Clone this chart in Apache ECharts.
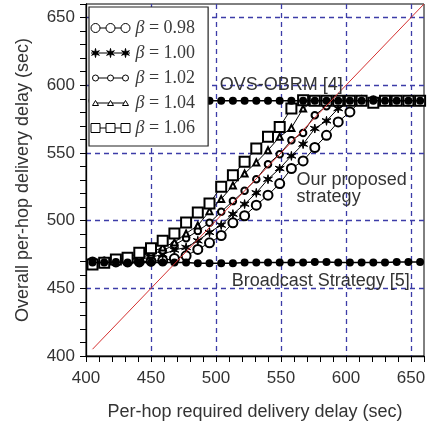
<!DOCTYPE html>
<html><head><meta charset="utf-8">
<script src="https://cdn.jsdelivr.net/npm/echarts@6/dist/echarts.min.js"></script>
<style>html,body{margin:0;padding:0;background:#fff}#c{width:433px;height:429px}</style>
</head><body><div id="c"></div>
<script>
// ---------------- data ----------------
const xValues = [405,414,423,432,441,450,459,468,477,486,495,504,513,522,531,540,549,558,567,576,585,594,603,612,621,630,639,648,657];
const beta098 = [469.5,469.5,469.5,469.5,469.5,470,470.5,472,474,478.7,483.6,489,498.4,503.6,511.4,518.8,527.4,538.5,544.1,554,563,572.9,580.3,588.9,588.5,588.5,588.5,588.5,588.5];
const beta100 = [469.5,470,470,470.5,471.5,473,475,478.3,480.2,485.1,491.3,496.7,504.8,512.2,520.5,530.6,538.5,547.8,556.5,568,573.7,582.8,588.9,588.5,588.5,588.5,588.5,588.5,588.5];
const beta102 = [469,469.5,470,471,472.5,475,478,482,487,492.3,498.4,506.5,514.4,522,530.6,541.7,549.1,559.4,564.8,577.9,584.5,588.9,588.5,588.5,588.5,588.5,588.5,588.5,588.5];
const beta104 = [469,469.5,470.5,471,473.3,476.5,480.2,483.9,490.5,496.4,507,515.9,526,534.8,543,552,561.9,568.5,582.8,588.9,588.5,588.5,588.5,588.5,588.5,588.5,588.5,588.5,588.5];
const beta106 = [467.5,468.9,471.3,472.6,476.2,479.5,485.1,490.5,498.7,506,512.7,525,533.6,543.4,553.3,561.9,569.2,582.8,588.9,588.5,588.5,588.5,588.5,588.5,587,588.5,588.5,588.5,588.5];
const broadcast = [469,469,469.5,469,469,469,469,469,469,468.5,468.5,468.5,468.5,469,469,469,469,469,469,469.5,469.5,469,469,469,469,469,469.5,469.5,469.5];
const ovsObrm = [588.5,588.5,588.5,588.5,588.5,588.5,588.5,588.5,588.5,588.5,588.5,588.5,588.5,588.5,588.5,588.5,588.5,588.5,588.5,588.5,588.5,588.5,588.5,588.5,588.5,588.5,588.5,588.5,588.5];
const diagonalX = [405, 660];
const diagonalY = [405, 660];
const seriesNames = ['β = 0.98','β = 1.00','β = 1.02','β = 1.04','β = 1.06'];
const axisMin = 400, axisMax = 660, labelStep = 50, tickStep = 10;
const xTitle = 'Per-hop required delivery delay (sec)';
const yTitle = 'Overall per-hop delivery delay (sec)';
const noteTexts = ['OVS-OBRM [4]','Our proposed','strategy','Broadcast Strategy [5]'];
const noteX = [502.9, 562, 562, 512.1];
const noteY = [600, 529.9, 517.3, 455.4];

// ---------------- styles ----------------
const GRID_COLOR = '#3c3ca8';
const TXT = '#333';
const SANS = '"Liberation Sans", Arial, sans-serif';
const SERIF = '"Liberation Serif", "Times New Roman", serif';

function starPath(cx, cy, R, r){
  let d = '';
  for (let k = 0; k < 12; k++){
    const a = (-90 + k*30) * Math.PI/180;
    const rr = k % 2 === 0 ? R : r;
    d += (k===0?'M':'L') + (cx + rr*Math.cos(a)).toFixed(2) + ',' + (cy + rr*Math.sin(a)).toFixed(2) + ' ';
  }
  return d + 'Z ';
}
function circ(cx, cy, r){
  return `M${cx-r},${cy} A${r},${r} 0 1,0 ${cx+r},${cy} A${r},${r} 0 1,0 ${cx-r},${cy} Z `;
}
function rect(cx, cy, h){
  return `M${cx-h},${cy-h} L${cx+h},${cy-h} L${cx+h},${cy+h} L${cx-h},${cy+h} Z `;
}
function tri(cx){
  return `M${cx-3},7.5 L${cx},2.5 L${cx+3},7.5 Z `;
}
const FRAME = 'M0,0 M40,10 ';
const centers = [5,20,35];
const legendIcons = [
  'path://' + FRAME + centers.map(c=>circ(c,5,4.5)).join('') + 'M9.5,5 L15.5,5 M24.5,5 L30.5,5',
  'path://' + FRAME + 'M0.5,5 L39.5,5 ' + centers.map(c=>starPath(c,5,4.5,1.4)).join(''),
  'path://' + FRAME + centers.map(c=>circ(c,5,3)).join('') + 'M8,5 L17,5 M23,5 L32,5',
  'path://' + FRAME + centers.map(c=>tri(c)).join('') + 'M6.5,5 L18.5,5 M21.5,5 L33.5,5',
  'path://' + FRAME + centers.map(c=>rect(c,5,4.5)).join('') + 'M9.5,5 L15.5,5 M24.5,5 L30.5,5'
];
const legendFill = ['#fff','#000','#fff','#fff','#fff'];
const starSymbol = 'path://' + starPath(5,5,5,1.5);

const symbols = ['emptyCircle', starSymbol, 'emptyCircle', 'emptyTriangle', 'emptyRect'];
const symbolSizes = [9, 9, 6.5, 6, 10];
const betaData = [beta098, beta100, beta102, beta104, beta106];

function pairs(xs, ys){ return xs.map((x,i)=>[x, ys[i]]); }

const betaSeries = betaData.map((ys, i) => ({
  name: seriesNames[i], type: 'line', data: pairs(xValues, ys),
  symbol: symbols[i], symbolSize: symbolSizes[i], showAllSymbol: true,
  lineStyle: {color:'#000', width: 1},
  itemStyle: {color: '#000', borderColor:'#000', borderWidth: 1},
  z: 2, silent: true
}));

const refLine = (name, ys) => ({
  name, type: 'line', data: pairs(xValues, ys),
  symbol: 'circle', symbolSize: 8, showAllSymbol: true,
  lineStyle: {color:'#000', width: 1.5},
  itemStyle: {color:'#000'}, z: 2.5, silent: true
});

function valueAxis(isX){
  return {
    type: 'value', min: axisMin, max: axisMax, interval: tickStep,
    axisLine: {show: true, onZero: false, lineStyle: {color:'#000', width: 1.3}},
    axisTick: {show: true, inside: false, length: 6, lineStyle: {color:'#000', width: 1}},
    axisLabel: {
      color: TXT, fontFamily: SANS, fontSize: 17, margin: isX ? 14 : 11,
      formatter: v => (v % labelStep === 0 && v <= 650) ? String(v) : ''
    },
    splitLine: {show: true, showMinLine: false, showMaxLine: false,
      lineStyle: {color: ['transparent','transparent','transparent','transparent',GRID_COLOR], width: 1.3, type: [5,4]}},
    name: isX ? xTitle : yTitle, nameLocation: 'middle', nameGap: isX ? 47 : 54,
    nameTextStyle: {color: TXT, fontFamily: SANS, fontSize: 18}
  };
}

const chart = echarts.init(document.getElementById('c'), null, {renderer: 'canvas'});
chart.setOption({
  animation: false,
  backgroundColor: '#fff',
  grid: {left: 86, right: 9, top: 4, bottom: 73, show: true, borderColor: '#000', borderWidth: 1, backgroundColor: 'transparent'},
  xAxis: valueAxis(true),
  yAxis: valueAxis(false),
  legend: {
    orient: 'vertical', left: 89, top: 7, padding: [12, 13, 9, 1], itemGap: 7,
    itemWidth: 40, itemHeight: 10, selectedMode: false, z: 20,
    backgroundColor: '#fff', borderColor: '#222', borderWidth: 1.2, borderRadius: 0,
    data: seriesNames.map((n, i) => ({name: n, icon: legendIcons[i],
      itemStyle: {color: legendFill[i], borderColor: '#000', borderWidth: 1}})),
    formatter: name => '{b|β}' + name.slice(1),
    textStyle: {fontFamily: SERIF, fontSize: 18, color: '#3a3a3a',
      rich: {b: {fontFamily: SERIF, fontStyle: 'italic', fontSize: 18, color: '#3a3a3a'}}}
  },
  series: [
    ...betaSeries,
    refLine('OVS-OBRM', ovsObrm),
    refLine('Broadcast', broadcast),
    {name: 'diagonal', type: 'line', data: pairs(diagonalX, diagonalY), symbol: 'none',
     lineStyle: {color: '#d43030', width: 1}, z: 3, silent: true}
  ]
});

chart.setOption({
  graphic: noteTexts.map((t, i) => {
    const p = chart.convertToPixel({gridIndex: 0}, [noteX[i], noteY[i]]);
    return {type: 'text', x: p[0], y: p[1], z: 10,
      style: {text: t, fill: TXT, fontFamily: SANS, fontSize: 18, align: 'left', verticalAlign: 'middle'}};
  })
});
</script>
</body></html>
